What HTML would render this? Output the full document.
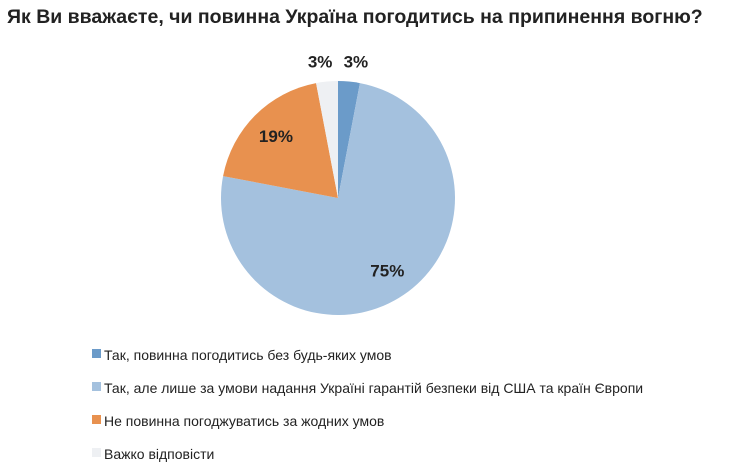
<!DOCTYPE html>
<html><head><meta charset="utf-8"><style>
body{margin:0;background:#fff;width:732px;height:468px;overflow:hidden;font-family:"Liberation Sans",sans-serif}
svg text{font-family:"Liberation Sans",sans-serif}
</style></head><body>
<svg id="chart" width="732" height="468" xmlns="http://www.w3.org/2000/svg">
<text x="7" y="23" font-size="19.5" font-weight="bold" fill="#222">Як Ви вважаєте, чи повинна Україна погодитись на припинення вогню?</text>
<g id="slices"></g><g id="labels"></g><g id="legend"></g>
</svg>
<script>
const categories=["Так, повинна погодитись без будь-яких умов","Так, але лише за умови надання Україні гарантій безпеки від США та країн Європи","Не повинна погоджуватись за жодних умов","Важко відповісти"];
const values=[3,75,19,3];
const valueLabels=["3%","75%","19%","3%"];
const colors=["#6b9bc9","#a4c1de","#e8914f","#eef0f3"];
const ns="http://www.w3.org/2000/svg";
const cx=338,cy=198,r=117;
const total=values.reduce((a,b)=>a+b,0);
const sl=document.getElementById('slices'),lb=document.getElementById('labels'),lg=document.getElementById('legend');
function pt(a,rr){return [cx+rr*Math.sin(a),cy-rr*Math.cos(a)];}
let acc=0;
values.forEach((v,i)=>{
  const a0=acc/total*2*Math.PI;acc+=v;const a1=acc/total*2*Math.PI;
  const p0=pt(a0,r),p1=pt(a1,r);
  const p=document.createElementNS(ns,'path');
  p.setAttribute('d',`M${cx},${cy}L${p0[0]},${p0[1]}A${r},${r} 0 ${a1-a0>Math.PI?1:0} 1 ${p1[0]},${p1[1]}Z`);
  p.setAttribute('fill',colors[i]);
  
  
  sl.appendChild(p);
  const am=(a0+a1)/2;
  let lp;
  if(v<6){lp=pt(am,r+20);lp[0]+=(i===0?5:-5);}else{lp=pt(am,r*0.75);}
  const t=document.createElementNS(ns,'text');
  t.setAttribute('x',lp[0]);t.setAttribute('y',lp[1]+6);
  t.setAttribute('text-anchor','middle');t.setAttribute('font-size','17');t.setAttribute('font-weight','bold');t.setAttribute('fill','#222');
  t.textContent=valueLabels[i];
  
  
  lb.appendChild(t);
  const y=360+i*33;
  const s=document.createElementNS(ns,'rect');
  s.setAttribute('x',92);s.setAttribute('y',y-11);s.setAttribute('width',9);s.setAttribute('height',9);s.setAttribute('fill',colors[i]);
  
  
  lg.appendChild(s);
  const lt=document.createElementNS(ns,'text');
  lt.setAttribute('x',104);lt.setAttribute('y',y);lt.setAttribute('font-size','14');lt.setAttribute('fill','#222');
  lt.textContent=categories[i];
  
  
  lg.appendChild(lt);
});
</script>
</body></html>
